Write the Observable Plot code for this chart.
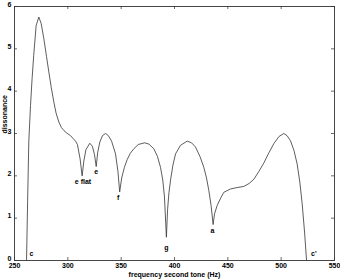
<!DOCTYPE html>
<html>
<head>
<meta charset="utf-8">
<script src="https://cdn.jsdelivr.net/npm/d3@7"></script>
<script src="https://cdn.jsdelivr.net/npm/@observablehq/plot@0.6"></script>
<style>
  html, body { margin: 0; padding: 0; background: #fff; }
  #chart svg { display: block; overflow: visible; }
</style>
</head>
<body>
<div id="chart"></div>
<script>
// Dissonance curve
const freqs = [261.3, 262.3, 263.4, 265, 266.5, 268, 270.3, 272.8, 275, 277.5, 280, 282.2, 284.5, 286.9, 289, 291.6, 294, 296.3, 299, 302.5, 305, 307.2, 309, 311.5, 313.4, 315, 317, 320.6, 323, 325, 326.6, 328, 330, 332.5, 335.3, 338, 341, 344.7, 347, 348.6, 350.5, 353, 355.6, 358.5, 361.9, 366, 371.9, 376, 380.6, 384, 386.9, 389, 390.6, 392.4, 393.5, 394.8, 396.3, 398.5, 401, 405.6, 411.9, 416, 419.7, 424, 427.5, 430, 432.2, 434.3, 436.2, 437.5, 440, 443.4, 446.2, 452.5, 458, 465, 470, 474.4, 479, 483.7, 488, 493.1, 498, 502.5, 505.5, 508.7, 512, 515, 517.5, 519.7, 522, 523.8];
const dissonance = [0, 1.4, 2.8, 3.66, 4.3, 4.84, 5.55, 5.75, 5.6, 5.24, 4.82, 4.45, 4.08, 3.74, 3.48, 3.27, 3.14, 3.07, 3.01, 2.95, 2.88, 2.82, 2.74, 2.4, 2.0, 2.35, 2.62, 2.77, 2.7, 2.5, 2.22, 2.55, 2.8, 2.95, 3.0, 2.95, 2.82, 2.52, 2.1, 1.62, 1.95, 2.2, 2.38, 2.53, 2.64, 2.74, 2.78, 2.75, 2.64, 2.46, 2.2, 1.9, 1.5, 0.55, 1.2, 1.6, 1.9, 2.25, 2.52, 2.72, 2.82, 2.78, 2.68, 2.45, 2.2, 1.95, 1.65, 1.3, 0.85, 1.1, 1.3, 1.48, 1.61, 1.69, 1.72, 1.75, 1.82, 1.92, 2.1, 2.3, 2.52, 2.76, 2.93, 3.0, 2.95, 2.83, 2.6, 2.28, 1.85, 1.34, 0.65, 0];

// Note labels (position in data units)
const noteNames = ["c", "e flat", "e", "f", "g", "a", "c'"];
const noteX = [266, 314.2, 326.6, 347.2, 392.5, 435.6, 530.6];
const noteY = [0.17, 1.87, 2.09, 1.48, 0.31, 0.71, 0.17];

const xTicks = [250, 300, 350, 400, 450, 500, 550];
const yTicks = [0, 1, 2, 3, 4, 5, 6];
const xLabel = "frequency second tone (Hz)";
const yLabel = "dissonance";

const curve = freqs.map((f, i) => ({f, d: dissonance[i]}));
const notes = noteNames.map((n, i) => ({n, x: noteX[i], y: noteY[i]}));

const W = 340, H = 280, mL = 14, mR = 6, mT = 6, mB = 20;
const innerW = W - mL - mR, innerH = H - mT - mB;

const chart = Plot.plot({
  width: W, height: H,
  marginLeft: mL, marginRight: mR, marginTop: mT, marginBottom: mB,
  style: {fontFamily: "'Liberation Sans', Arial, sans-serif", fontSize: "7px", fontWeight: "bold", color: "#000", background: "#fff"},
  x: {domain: [250, 550]},
  y: {domain: [0, 6]},
  marks: [
    Plot.tickX(xTicks, {x: d => d, insetTop: innerH - 3, stroke: "#444", strokeWidth: 0.8}),
    Plot.tickX(xTicks, {x: d => d, insetBottom: innerH - 3, stroke: "#444", strokeWidth: 0.8}),
    Plot.tickY(yTicks, {y: d => d, insetRight: innerW - 3, stroke: "#444", strokeWidth: 0.8}),
    Plot.tickY(yTicks, {y: d => d, insetLeft: innerW - 3, stroke: "#444", strokeWidth: 0.8}),
    Plot.axisX({ticks: xTicks, tickSize: 0, tickPadding: 3, tickFormat: d3.format("d"), label: null}),
    Plot.axisY({ticks: yTicks, tickSize: 0, tickPadding: 3, dy: -2, tickFormat: d3.format("d"), label: null}),
    Plot.text([xLabel], {frameAnchor: "bottom", dy: 16.5, text: d => d, fill: "#000", fontSize: 7, fontWeight: "bold"}),
    Plot.text([yLabel], {frameAnchor: "left", dx: -10, rotate: -90, text: d => d, fill: "#000", fontSize: 7, fontWeight: "bold"}),
    Plot.line(curve, {x: "f", y: "d", stroke: "#333", strokeWidth: 0.8}),
    Plot.text(notes, {x: "x", y: "y", text: "n", fill: "#000", fontSize: 7, fontWeight: "bold"}),
    Plot.frame({stroke: "#333", strokeWidth: 0.9})
  ]
});
document.getElementById("chart").appendChild(chart);
</script>
</body>
</html>
